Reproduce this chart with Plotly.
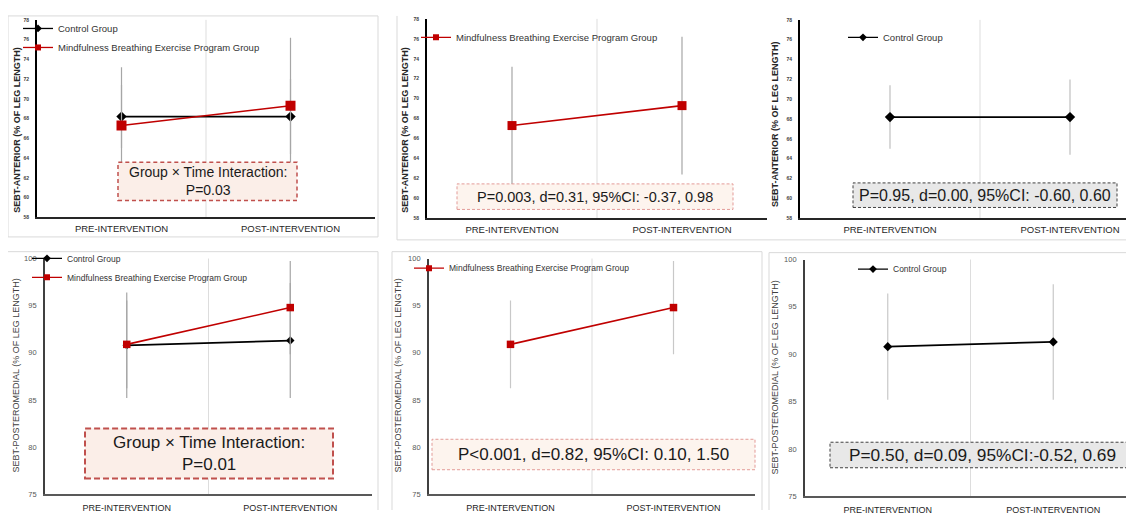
import plotly.graph_objects as go

# ---------------- data ----------------
categories = ["PRE-INTERVENTION", "POST-INTERVENTION"]

anterior_control_mean = [68.2, 68.2]
anterior_control_sd = [3.2, 3.8]
anterior_mbep_mean = [67.3, 69.3]
anterior_mbep_sd = [5.9, 6.9]

postero_control_mean = [90.8, 91.3]
postero_control_sd = [5.6, 6.1]
postero_mbep_mean = [90.9, 94.8]
postero_mbep_sd = [4.65, 4.95]

control_name = "Control Group"
mbep_name = "Mindfulness Breathing Exercise Program Group"

anterior_title = "SEBT-ANTERIOR (% OF LEG LENGTH)"
postero_title = "SEBT-POSTEROMEDIAL (% OF LEG LENGTH)"

box_texts = [
    "Group × Time Interaction:<br>P=0.03",
    "P=0.003, d=0.31, 95%CI: -0.37, 0.98",
    "P=0.95, d=0.00, 95%CI: -0.60, 0.60",
    "Group × Time Interaction:<br>P=0.01",
    "P<0.001, d=0.82, 95%CI: 0.10, 1.50",
    "P=0.50, d=0.09, 95%CI:-0.52, 0.69",
]

# ---------------- layout helpers ----------------
W, H = 1134, 515          # window size
OFF = 8                   # browser body margin
FW, FH = W - OFF, H - OFF  # figure size
FONT = "Liberation Sans, Arial, sans-serif"
RED = "#c00000"


def px(x):
    return (x - OFF) / FW


def py(y):
    return 1 - (y - OFF) / FH


xpos = list(range(len(categories)))

fig = go.Figure()

panels = [
    dict(l=37, r=375, t=16, b=217, row="top"),
    dict(l=427, r=767, t=15, b=218, row="top"),
    dict(l=800, r=1160, t=16, b=218, row="top"),
    dict(l=45, r=372, t=259, b=499, row="bot"),
    dict(l=429, r=755, t=259, b=499, row="bot"),
    dict(l=805, r=1136, t=260, b=501, row="bot"),
]

panel_series = [
    ["control", "mbep"],
    ["mbep"],
    ["control"],
    ["control", "mbep"],
    ["mbep"],
    ["control"],
]

series_data = {
    "top": {
        "control": (anterior_control_mean, anterior_control_sd),
        "mbep": (anterior_mbep_mean, anterior_mbep_sd),
    },
    "bot": {
        "control": (postero_control_mean, postero_control_sd),
        "mbep": (postero_mbep_mean, postero_mbep_sd),
    },
}

marker_sizes = [
    {"control": 8, "mbep": 10},
    {"mbep": 9},
    {"control": 8},
    {"control": 6.5, "mbep": 7.5},
    {"mbep": 7.5},
    {"control": 7},
]

err_colors = ["#a6a6a6", "#a6a6a6", "#bfbfbf", "#a6a6a6", "#c8c8c8", "#c8c8c8"]

legend_specs = [
    (58, 28, 9.5),
    (456, 37, 9.5),
    (883, 37, 9.5),
    (67, 262, 8.5),
    (449, 272, 8.5),
    (893, 273, 8.5),
]

ytitle_pos = [(17, 128), (405, 128), (775, 122), (16, 378), (398, 378), (775, 380)]

pink_fill = "#fbeee8"
light_fill = "#fdf4ee"
gray_fill = "#e8e8e8"
boxes = [
    (118, 161, 297, 200, pink_fill, "#c0504d", 1.5, "4px,3px", 14),
    (457, 183, 733, 209, light_fill, "#e39b98", 1, "3px,2px", 14.5),
    (853, 182, 1117, 207, gray_fill, "#404040", 1, "3px,2px", 16),
    (85, 432, 333, 483, pink_fill, "#c0504d", 2, "6px,3px", 17),
    (432, 443, 755, 474, light_fill, "#e39b98", 1, "3px,2px", 17),
    (830, 446, 1134, 472, gray_fill, "#404040", 1, "3px,2px", 17.3),
]

shapes = []
annotations = []

for i, p in enumerate(panels):
    n = i + 1
    xa = "x" if n == 1 else f"x{n}"
    ya = "y" if n == 1 else f"y{n}"
    lg = "legend" if n == 1 else f"legend{n}"
    top = p["row"] == "top"

    r_vis = min(p["r"], W)
    unit = (p["r"] - p["l"]) / 2.0
    xmax = -0.5 + (r_vis - p["l"]) / unit

    for s in panel_series[i]:
        mean, sd = series_data[p["row"]][s]
        is_c = s == "control"
        col = "black" if is_c else RED
        sym = "diamond" if is_c else "square"
        name = control_name if is_c else mbep_name
        fig.add_trace(
            go.Scatter(
                x=xpos,
                y=mean,
                name=name,
                mode="lines+markers",
                line=dict(color=col, width=1.8 if is_c else 1.6),
                marker=dict(symbol=sym, size=marker_sizes[i][s], color=col),
                error_y=dict(type="data", array=sd, visible=True, color=err_colors[i], thickness=1.2, width=0),
                xaxis=xa,
                yaxis=ya,
                showlegend=False,
                cliponaxis=False,
            )
        )
        # legend entry (small symbol, like the original chart's legend key)
        fig.add_trace(
            go.Scatter(
                x=[None],
                y=[None],
                name=name,
                mode="lines+markers",
                line=dict(color=col, width=1.3),
                marker=dict(symbol=sym, size=6, color=col),
                xaxis=xa,
                yaxis=ya,
                legend=lg,
                showlegend=True,
            )
        )

    axis_color = "black" if top else "#404040"
    fig.update_layout(
        **{
            ("xaxis" if n == 1 else f"xaxis{n}"): dict(
                domain=[px(p["l"]), px(r_vis)],
                anchor=ya,
                range=[-0.5, xmax],
                tickvals=xpos,
                ticktext=categories,
                showgrid=False,
                zeroline=False,
                showline=True,
                linecolor="#262626" if top else "#595959",
                linewidth=2,
                ticks="",
                tickfont=dict(family=FONT, size=9.5 if top else 9, color="#262626"),
                ticklabelstandoff=1 if top else 4,
                fixedrange=True,
            ),
            ("yaxis" if n == 1 else f"yaxis{n}"): dict(
                domain=[py(p["b"]), py(p["t"])],
                anchor=xa,
                range=[58, 78] if top else [75, 100],
                dtick=2 if top else 5,
                showgrid=False,
                zeroline=False,
                showline=True,
                linecolor=axis_color,
                linewidth=1.8,
                ticks="",
                tickfont=dict(
                    family=FONT,
                    size=5 if top else 7.5,
                    color="#404040" if top else "#595959",
                    weight="bold" if top else "normal",
                ),
                ticklabelstandoff=5,
                fixedrange=True,
            ),
            lg: dict(
                x=px(legend_specs[i][0] - 40),
                y=py(legend_specs[i][1] - 18),
                xanchor="left",
                yanchor="top",
                bgcolor="rgba(0,0,0,0)",
                borderwidth=0,
                font=dict(family=FONT, size=legend_specs[i][2], color="#333333"),
                itemwidth=30,
                tracegroupgap=0,
            ),
        }
    )

    shapes.append(
        dict(
            type="line",
            xref=xa,
            yref=f"{ya} domain",
            x0=0.5,
            x1=0.5,
            y0=0,
            y1=1,
            line=dict(color="#dddddd", width=1),
            layer="below",
        )
    )

    tx, ty = ytitle_pos[i]
    annotations.append(
        dict(
            text=anterior_title if top else postero_title,
            x=px(tx),
            y=py(ty),
            xref="paper",
            yref="paper",
            xanchor="center",
            yanchor="middle",
            showarrow=False,
            textangle=-90,
            font=dict(family=FONT, size=9, color="#262626" if top else "#404040",
                      weight="bold" if top else "normal"),
        )
    )

    x0, y0, x1, y1, fill, border, bw, dash, fs = boxes[i]
    shapes.append(
        dict(
            type="rect",
            xref="paper",
            yref="paper",
            x0=px(x0),
            x1=px(x1),
            y0=py(y1),
            y1=py(y0),
            fillcolor=fill,
            line=dict(color=border, width=bw, dash=dash),
            layer="above",
        )
    )
    annotations.append(
        dict(
            text=box_texts[i],
            x=px((x0 + x1) / 2),
            y=py((y0 + y1) / 2),
            xref="paper",
            yref="paper",
            xanchor="center",
            yanchor="middle",
            showarrow=False,
            align="center",
            font=dict(family=FONT, size=fs, color="#1a1a1a"),
        )
    )

frame_col = "#d9d9d9"
frame_lines = [
    (8, 12, 378, 12), (8, 12, 8, 237), (378, 12, 378, 237), (8, 237, 378, 237),
    (397, 12, 397, 240), (397, 240, 1134, 240),
    (8, 252, 378, 252), (378, 252, 378, 515),
    (392, 252, 392, 515), (392, 252, 762, 252), (762, 252, 762, 515),
    (769, 253, 769, 515), (769, 253, 1134, 253),
]
for (a, b, c, d) in frame_lines:
    shapes.append(
        dict(type="line", xref="paper", yref="paper", x0=px(a), y0=py(b), x1=px(c), y1=py(d),
             line=dict(color=frame_col, width=1), layer="below")
    )

fig.update_layout(
    width=FW,
    height=FH,
    margin=dict(l=0, r=0, t=0, b=0),
    paper_bgcolor="white",
    plot_bgcolor="rgba(0,0,0,0)",
    shapes=shapes,
    annotations=annotations,
    font=dict(family=FONT),
)

fig.write_html("out.html")
